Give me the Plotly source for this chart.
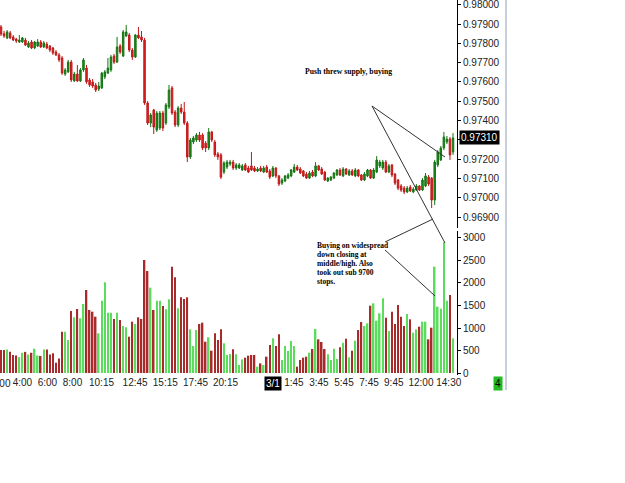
import plotly.graph_objects as go

# ---------------- data (15-minute bars) ----------------
opens = [0.97885, 0.97850, 0.97828, 0.97854, 0.97833, 0.97822, 0.97807, 0.97807, 0.97817, 0.97781,
         0.97807, 0.97776, 0.97786, 0.97807, 0.97781, 0.97796, 0.97786, 0.97776, 0.97755, 0.97740,
         0.97724, 0.97641, 0.97652, 0.97703, 0.97605, 0.97641, 0.97605, 0.97662, 0.97672, 0.97610,
         0.97600, 0.97584, 0.97563, 0.97569, 0.97626, 0.97646, 0.97662, 0.97734, 0.97703, 0.97786,
         0.97734, 0.97838, 0.97843, 0.97765, 0.97729, 0.97843, 0.97833, 0.97817, 0.97491, 0.97387,
         0.97455, 0.97351, 0.97361, 0.97439, 0.97387, 0.97470, 0.97569, 0.97444, 0.97377, 0.97465,
         0.97444, 0.97387, 0.97211, 0.97289, 0.97299, 0.97325, 0.97325, 0.97283, 0.97258, 0.97341,
         0.97289, 0.97227, 0.97222, 0.97133, 0.97159, 0.97175, 0.97185, 0.97154, 0.97154, 0.97144,
         0.97170, 0.97154, 0.97165, 0.97154, 0.97139, 0.97154, 0.97133, 0.97159, 0.97139, 0.97113,
         0.97154, 0.97113, 0.97076, 0.97087, 0.97102, 0.97113, 0.97133, 0.97159, 0.97149, 0.97139,
         0.97123, 0.97102, 0.97133, 0.97113, 0.97165, 0.97149, 0.97133, 0.97087, 0.97092, 0.97102,
         0.97118, 0.97144, 0.97113, 0.97149, 0.97118, 0.97139, 0.97113, 0.97144, 0.97118, 0.97092,
         0.97113, 0.97144, 0.97102, 0.97133, 0.97165, 0.97154, 0.97185, 0.97133, 0.97170, 0.97123,
         0.97092, 0.97061, 0.97050, 0.97030, 0.97055, 0.97030, 0.97040, 0.97061, 0.97040, 0.97061,
         0.97107, 0.97102, 0.96988, 0.97170, 0.97196, 0.97258, 0.97289, 0.97304, 0.97237]
highs = [0.97895, 0.97864, 0.97869, 0.97864, 0.97843, 0.97828, 0.97843, 0.97833, 0.97828, 0.97812,
         0.97817, 0.97812, 0.97822, 0.97817, 0.97812, 0.97807, 0.97791, 0.97781, 0.97765, 0.97750,
         0.97734, 0.97672, 0.97714, 0.97714, 0.97652, 0.97688, 0.97672, 0.97724, 0.97688, 0.97620,
         0.97615, 0.97595, 0.97600, 0.97652, 0.97662, 0.97724, 0.97740, 0.97745, 0.97833, 0.97796,
         0.97869, 0.97895, 0.97854, 0.97776, 0.97848, 0.97885, 0.97864, 0.97828, 0.97501, 0.97439,
         0.97460, 0.97450, 0.97450, 0.97450, 0.97491, 0.97584, 0.97579, 0.97455, 0.97475, 0.97486,
         0.97496, 0.97397, 0.97310, 0.97320, 0.97335, 0.97341, 0.97335, 0.97294, 0.97361, 0.97346,
         0.97299, 0.97237, 0.97232, 0.97190, 0.97196, 0.97196, 0.97196, 0.97180, 0.97180, 0.97175,
         0.97180, 0.97165, 0.97237, 0.97165, 0.97159, 0.97165, 0.97165, 0.97170, 0.97149, 0.97165,
         0.97159, 0.97118, 0.97102, 0.97118, 0.97128, 0.97149, 0.97175, 0.97170, 0.97159, 0.97144,
         0.97133, 0.97139, 0.97144, 0.97185, 0.97170, 0.97159, 0.97139, 0.97107, 0.97113, 0.97133,
         0.97149, 0.97154, 0.97159, 0.97154, 0.97149, 0.97149, 0.97154, 0.97149, 0.97123, 0.97133,
         0.97149, 0.97149, 0.97154, 0.97216, 0.97196, 0.97196, 0.97196, 0.97175, 0.97175, 0.97128,
         0.97097, 0.97071, 0.97061, 0.97061, 0.97066, 0.97055, 0.97071, 0.97066, 0.97102, 0.97128,
         0.97118, 0.97107, 0.97196, 0.97247, 0.97268, 0.97341, 0.97320, 0.97315, 0.97335]
lows = [0.97838, 0.97828, 0.97822, 0.97822, 0.97812, 0.97802, 0.97802, 0.97802, 0.97786, 0.97776,
        0.97770, 0.97770, 0.97781, 0.97776, 0.97776, 0.97770, 0.97755, 0.97740, 0.97734, 0.97703,
        0.97636, 0.97631, 0.97646, 0.97600, 0.97600, 0.97600, 0.97600, 0.97652, 0.97590, 0.97574,
        0.97569, 0.97548, 0.97553, 0.97563, 0.97615, 0.97641, 0.97652, 0.97693, 0.97698, 0.97745,
        0.97729, 0.97833, 0.97755, 0.97714, 0.97724, 0.97822, 0.97807, 0.97481, 0.97377, 0.97366,
        0.97330, 0.97341, 0.97351, 0.97346, 0.97377, 0.97460, 0.97429, 0.97366, 0.97366, 0.97434,
        0.97377, 0.97185, 0.97201, 0.97278, 0.97289, 0.97289, 0.97247, 0.97237, 0.97247, 0.97289,
        0.97211, 0.97196, 0.97097, 0.97123, 0.97149, 0.97165, 0.97144, 0.97144, 0.97149, 0.97139,
        0.97139, 0.97128, 0.97139, 0.97133, 0.97133, 0.97133, 0.97128, 0.97128, 0.97097, 0.97107,
        0.97102, 0.97061, 0.97066, 0.97081, 0.97097, 0.97107, 0.97128, 0.97139, 0.97123, 0.97107,
        0.97097, 0.97097, 0.97107, 0.97107, 0.97139, 0.97118, 0.97087, 0.97081, 0.97087, 0.97097,
        0.97113, 0.97113, 0.97107, 0.97118, 0.97113, 0.97113, 0.97107, 0.97107, 0.97087, 0.97087,
        0.97107, 0.97097, 0.97097, 0.97128, 0.97154, 0.97144, 0.97128, 0.97128, 0.97107, 0.97066,
        0.97040, 0.97030, 0.97019, 0.97024, 0.97030, 0.97024, 0.97035, 0.97035, 0.97035, 0.97055,
        0.97061, 0.96947, 0.96962, 0.97159, 0.97190, 0.97247, 0.97278, 0.97196, 0.97222]
closes = [0.97848, 0.97838, 0.97859, 0.97828, 0.97817, 0.97812, 0.97817, 0.97828, 0.97791, 0.97802,
          0.97776, 0.97807, 0.97807, 0.97781, 0.97802, 0.97776, 0.97765, 0.97750, 0.97740, 0.97714,
          0.97646, 0.97662, 0.97703, 0.97610, 0.97641, 0.97605, 0.97662, 0.97714, 0.97600, 0.97584,
          0.97579, 0.97558, 0.97579, 0.97646, 0.97652, 0.97672, 0.97729, 0.97703, 0.97781, 0.97755,
          0.97859, 0.97859, 0.97765, 0.97729, 0.97843, 0.97828, 0.97817, 0.97491, 0.97387, 0.97429,
          0.97366, 0.97439, 0.97439, 0.97361, 0.97481, 0.97558, 0.97439, 0.97377, 0.97465, 0.97444,
          0.97387, 0.97211, 0.97299, 0.97310, 0.97325, 0.97299, 0.97258, 0.97258, 0.97341, 0.97299,
          0.97222, 0.97211, 0.97107, 0.97180, 0.97185, 0.97185, 0.97154, 0.97170, 0.97170, 0.97165,
          0.97144, 0.97133, 0.97144, 0.97139, 0.97149, 0.97139, 0.97154, 0.97133, 0.97107, 0.97154,
          0.97113, 0.97071, 0.97092, 0.97113, 0.97118, 0.97144, 0.97159, 0.97144, 0.97128, 0.97113,
          0.97102, 0.97128, 0.97113, 0.97165, 0.97144, 0.97123, 0.97092, 0.97102, 0.97107, 0.97128,
          0.97144, 0.97118, 0.97149, 0.97123, 0.97139, 0.97118, 0.97144, 0.97113, 0.97092, 0.97123,
          0.97144, 0.97102, 0.97144, 0.97196, 0.97185, 0.97185, 0.97133, 0.97165, 0.97118, 0.97076,
          0.97050, 0.97040, 0.97030, 0.97050, 0.97035, 0.97045, 0.97061, 0.97040, 0.97092, 0.97113,
          0.97071, 0.96988, 0.97185, 0.97237, 0.97258, 0.97315, 0.97304, 0.97222, 0.97310]
volumes = [511, 511, 520, 470, 400, 390, 355, 450, 470, 410,
           450, 540, 390, 380, 520, 520, 410, 440, 229, 325,
           918, 918, 733, 1378, 1237, 1422, 1215, 1533, 1844, 1400,
           1363, 1252, 881, 1607, 2015, 1341, 1341, 1200, 1341, 1178,
           1044, 1015, 807, 1141, 1089, 1237, 1200, 2511, 2267, 1896,
           1400, 1607, 1607, 1489, 1415, 1637, 2363, 2126, 1437, 1681,
           1644, 1681, 970, 600, 955, 1089, 1118, 696, 793, 496,
           881, 733, 970, 659, 400, 422, 526, 415, 178, 303,
           341, 385, 400, 400, 141, 215, 178, 363, 622, 770,
           600, 859, 289, 600, 489, 711, 600, 141, 289, 341,
           363, 452, 533, 978, 748, 689, 533, 415, 289, 541,
           311, 570, 674, 763, 348, 496, 719, 955, 1133, 1044,
           1104, 1496, 1548, 1163, 1326, 1659, 1230, 933, 1363, 1089,
           1511, 1252, 1044, 1311, 1193, 896, 970, 1030, 1141, 1141,
           748, 1007, 2363, 1474, 1430, 2904, 1607, 1733, 770]
bar_index = list(range(len(closes)))

# time labels and the bar position at which each appears
tick_labels = ["4:00", "6:00", "8:00", "10:15", "12:45", "15:15", "17:45", "20:15",
               "3/1", "1:45", "3:45", "5:45", "7:45", "9:45", "12:00", "14:30"]
tick_bar = [7.0, 15.2, 23.4, 32.9, 43.9, 53.8, 63.7, 73.5,
            88.9, 95.9, 104.1, 112.3, 120.5, 128.6, 137.5, 146.6]
first_label = "2:00"
date_label = "3/1"
price_ticks = [0.969, 0.970, 0.971, 0.972, 0.973, 0.974, 0.975, 0.976, 0.977, 0.978, 0.979, 0.980]
volume_ticks = [0, 500, 1000, 1500, 2000, 2500, 3000]
last_price = 0.97310
note_top = "Push threw supply, buying"
note_bottom = ["Buying on widespread", "down closing at", "middle/high. Also",
               "took out sub 9700", "stops."]
counter_label = "4"

# ---------------- layout helpers (pixel -> paper) ----------------
W, H = 625, 483
PLOT_W, PLOT_H = 457, 375


def px(x):
    return x / PLOT_W


def py(y):
    return (PLOT_H - y) / PLOT_H


GREEN_BODY = "#1b8a1b"
RED_BODY = "#e02222"
VOL_GREEN = "#5cdc5c"
VOL_RED = "#a82a2a"
FONT = "Arial, Liberation Sans, sans-serif"
SERIF = "Liberation Serif, Times New Roman, serif"

vol_colors = [VOL_GREEN if c >= o else VOL_RED for o, c in zip(opens, closes)]

fig = go.Figure()
fig.add_trace(go.Candlestick(
    x=bar_index, open=opens, high=highs, low=lows, close=closes,
    increasing=dict(line=dict(color="#157515", width=1), fillcolor=GREEN_BODY),
    decreasing=dict(line=dict(color="#c01818", width=1), fillcolor=RED_BODY),
    whiskerwidth=0, showlegend=False, hoverinfo="skip", xaxis="x", yaxis="y"))
fig.add_trace(go.Bar(
    x=bar_index, y=volumes, marker=dict(color=vol_colors, line=dict(width=0)),
    width=0.5, showlegend=False, hoverinfo="skip", xaxis="x", yaxis="y2"))

price_top = 0.980244
price_bottom = 0.968434

# hide the ordinary tick label that sits under the last-price box
closest_tick = min(price_ticks, key=lambda v: abs(v - last_price))
price_ticktext = ["" if v == closest_tick else f"{v:.5f}" for v in price_ticks]

fig.update_layout(
    width=W, height=H,
    margin=dict(l=0, r=W - PLOT_W, t=0, b=H - PLOT_H),
    paper_bgcolor="white", plot_bgcolor="white",
    showlegend=False,
    xaxis=dict(domain=[0, 1], range=[-0.33, 149.3], anchor="y2",
               showgrid=False, zeroline=False, showline=False,
               tickmode="array", tickvals=tick_bar,
               ticktext=["" if t == date_label else t for t in tick_labels],
               ticks="", tickfont=dict(family=FONT, size=10, color="#222"),
               rangeslider=dict(visible=False)),
    yaxis=dict(domain=[py(228), 1], range=[price_bottom, price_top], side="right",
               anchor="x", showgrid=False, zeroline=False,
               showline=True, linecolor="black", linewidth=1,
               ticks="outside", ticklen=3, tickcolor="black",
               ticklabeloverflow="allow",
               tickmode="array", tickvals=price_ticks, ticktext=price_ticktext,
               tickfont=dict(family=FONT, size=10, color="#222")),
    yaxis2=dict(domain=[0, py(231)], range=[-44, 3155], side="right",
                anchor="x", showgrid=False, zeroline=False,
                showline=True, linecolor="black", linewidth=1,
                ticks="outside", ticklen=3, tickcolor="black",
                ticklabeloverflow="allow",
                tickmode="array", tickvals=volume_ticks,
                ticktext=[str(v) for v in volume_ticks],
                tickfont=dict(family=FONT, size=10, color="#222")),
)

annotations = [
    dict(text=f"{last_price:.5f}", xref="paper", x=1, xanchor="left", xshift=2,
         yref="y", y=last_price, yanchor="middle", showarrow=False,
         bgcolor="black", borderpad=1, font=dict(family=FONT, size=10, color="white")),
    dict(text=date_label, xref="x", x=tick_bar[tick_labels.index(date_label)],
         yref="paper", y=py(383.5), yanchor="middle", showarrow=False,
         bgcolor="black", borderpad=1, font=dict(family=FONT, size=10, color="white")),
    dict(text=first_label, xref="paper", x=px(1), xanchor="center",
         yref="paper", y=py(383.5), yanchor="middle", showarrow=False,
         font=dict(family=FONT, size=10, color="#222")),
    dict(text=counter_label, xref="paper", x=px(498), xanchor="center",
         yref="paper", y=py(383.5), yanchor="middle", showarrow=False,
         bgcolor="#22bb22", borderpad=1, font=dict(family=FONT, size=10, color="black")),
    dict(text=f"<b>{note_top}</b>", xref="paper", x=px(303), xanchor="left",
         yref="paper", y=py(71), yanchor="middle", showarrow=False,
         font=dict(family=SERIF, size=7.7, color="black")),
]
for k, line in enumerate(note_bottom):
    annotations.append(dict(text=f"<b>{line}</b>", xref="paper", x=px(314.5), xanchor="left",
                            yref="paper", y=py(245 + 9 * k), yanchor="middle", showarrow=False,
                            font=dict(family=SERIF, size=7.5, color="black")))
fig.update_layout(annotations=annotations)

pointer_lines = [((372, 106), (445, 157)), ((372, 106), (445, 243)),
                 ((385, 242), (433, 219)), ((385, 250), (435, 296))]
shapes = []
for (x0, y0), (x1, y1) in pointer_lines:
    shapes.append(dict(type="line", xref="paper", yref="paper",
                       x0=px(x0), y0=py(y0), x1=px(x1), y1=py(y1),
                       line=dict(color="#333", width=1)))
shapes.append(dict(type="line", xref="paper", yref="paper",
                   x0=px(506), x1=px(506), y0=py(390), y1=1,
                   line=dict(color="#c8d0dc", width=2)))
fig.update_layout(shapes=shapes)

fig.write_html("out.html")
